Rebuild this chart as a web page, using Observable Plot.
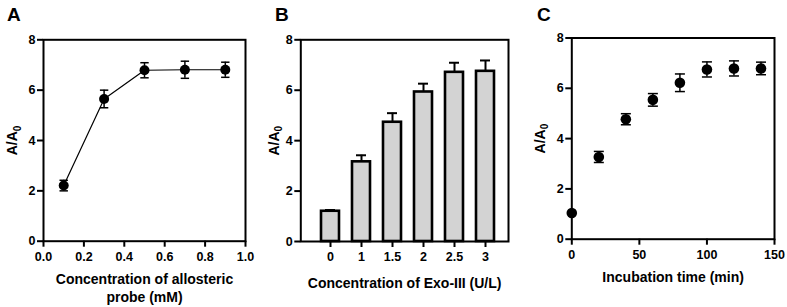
<!DOCTYPE html>
<html>
<head>
<meta charset="utf-8">
<script src="https://cdn.jsdelivr.net/npm/d3@7"></script>
<script src="https://cdn.jsdelivr.net/npm/@observablehq/plot@0.6"></script>
<style>
  html, body { margin: 0; padding: 0; background: #fff; }
  #root { position: relative; width: 787px; height: 307px; overflow: hidden; font-family: "Liberation Sans", Arial, sans-serif; }
  .panel { position: absolute; top: 0; }
  .letter { position: absolute; font: bold 19px "Liberation Sans", Arial, sans-serif; color: #000; line-height: 1; }
</style>
</head>
<body>
<div id="root"></div>
<script>
// Panel A: allosteric probe concentration
const concA = [0.1, 0.3, 0.5, 0.7, 0.9];
const ratioA = [2.21, 5.65, 6.79, 6.81, 6.81];
const errA = [0.21, 0.35, 0.30, 0.34, 0.30];
const ticksA = [0, 0.2, 0.4, 0.6, 0.8, 1.0];

// Panel B: Exo-III concentration
const exoB = ["0", "1", "1.5", "2", "2.5", "3"];
const ratioB = [1.20, 3.16, 4.73, 5.93, 6.71, 6.75];
const errB = [0.05, 0.26, 0.36, 0.33, 0.38, 0.43];

// Panel C: incubation time
const timeC = [0, 20, 40, 60, 80, 100, 120, 140];
const ratioC = [1.04, 3.27, 4.77, 5.54, 6.22, 6.75, 6.79, 6.79];
const errC = [0, 0.22, 0.22, 0.25, 0.35, 0.30, 0.30, 0.25];
const ticksC = [0, 50, 100, 150];

const yTicks = [0, 2, 4, 6, 8];
const yLabel = "A/A0";
const labelA = "Concentration of allosteric\nprobe (mM)";
const labelB = "Concentration of Exo-III (U/L)";
const labelC = "Incubation time (min)";

const dataA = concA.map((x, i) => ({x, y: ratioA[i], e: errA[i]}));
const dataB = exoB.map((x, i) => ({x, y: ratioB[i], e: errB[i]}));
const dataC = timeC.map((x, i) => ({x, y: ratioC[i], e: errC[i]}));

const FONT = "'Liberation Sans', Arial, sans-serif";
const capSymbol = {
  draw(ctx, size) {
    const r = Math.sqrt(size / Math.PI);
    ctx.moveTo(-r, 0);
    ctx.lineTo(r, 0);
  }
};

function baseStyle() {
  return {fontFamily: FONT, fontWeight: "bold", color: "#000", background: "transparent", overflow: "visible"};
}

function yAxisMarks(dxLabel) {
  return [
    Plot.axisY({ticks: yTicks, tickSize: 6, tickPadding: 2, strokeWidth: 2, fontSize: 12.5, fontWeight: "bold", label: null}),
    Plot.text([yLabel], {frameAnchor: "left", rotate: -90, dx: dxLabel, textAnchor: "middle", fontSize: 14, fontWeight: "bold", fill: "#000"})
  ];
}

function subscriptify(svg) {
  d3.select(svg).selectAll("text").each(function() {
    if (this.textContent === yLabel) {
      const t = d3.select(this);
      t.text(null);
      t.append("tspan").text("A/A");
      t.append("tspan").attr("dy", "0.3em").attr("font-size", "0.72em").text("0");
    }
  });
  return svg;
}

// ---- Panel A ----
const plotA = Plot.plot({
  width: 262, height: 307,
  marginLeft: 43, marginRight: 17, marginTop: 39.3, marginBottom: 66.3,
  style: baseStyle(),
  x: {domain: [0, 1]},
  y: {domain: [0, 8]},
  marks: [
    Plot.frame({stroke: "#000", strokeWidth: 2}),
    Plot.axisX({ticks: ticksA, tickFormat: d3.format(".1f"), tickSize: 6, tickPadding: 5, strokeWidth: 2, fontSize: 12.5, fontWeight: "bold", label: null}),
    ...yAxisMarks(-30.5),
    Plot.text([labelA], {frameAnchor: "bottom", dy: 46, textAnchor: "middle", lineAnchor: "middle", lineHeight: 1.29, fontSize: 14, fontWeight: "bold", fill: "#000"}),
    Plot.line(dataA, {x: "x", y: "y", stroke: "#000", strokeWidth: 1.2}),
    Plot.ruleX(dataA, {x: "x", y1: d => d.y - d.e, y2: d => d.y + d.e, stroke: "#000", strokeWidth: 1.5}),
    Plot.dot(dataA, {x: "x", y: d => d.y + d.e, symbol: capSymbol, r: 4.2, stroke: "#000", strokeWidth: 1.5, fill: "none"}),
    Plot.dot(dataA, {x: "x", y: d => d.y - d.e, symbol: capSymbol, r: 4.2, stroke: "#000", strokeWidth: 1.5, fill: "none"}),
    Plot.dot(dataA, {x: "x", y: "y", r: 5, fill: "#000", stroke: "none"})
  ]
});

// ---- Panel B ----
const plotB = Plot.plot({
  width: 262, height: 307,
  marginLeft: 38.3, marginRight: 16, marginTop: 39.3, marginBottom: 66,
  style: baseStyle(),
  x: {type: "band", domain: exoB, paddingInner: 0.42, paddingOuter: 0.46, align: 0.6},
  y: {domain: [0, 8]},
  marks: [
    Plot.ruleX(dataB, {x: "x", y1: "y", y2: d => d.y + d.e, stroke: "#000", strokeWidth: 2}),
    Plot.tickY(dataB, {x: "x", y: d => d.y + d.e, insetLeft: 4, insetRight: 4, stroke: "#000", strokeWidth: 2}),
    Plot.barY(dataB, {x: "x", y: "y", fill: "#d3d3d3", stroke: "#000", strokeWidth: 2.6}),
    Plot.frame({stroke: "#000", strokeWidth: 2}),
    Plot.axisX({tickSize: 6, tickPadding: 5, strokeWidth: 2, fontSize: 12.5, fontWeight: "bold", label: null}),
    ...yAxisMarks(-26),
    Plot.text([labelB], {frameAnchor: "bottom", dy: 42, textAnchor: "middle", lineAnchor: "middle", fontSize: 14, fontWeight: "bold", fill: "#000"})
  ]
});

// ---- Panel C ----
const plotC = Plot.plot({
  width: 263, height: 307,
  marginLeft: 47.3, marginRight: 13, marginTop: 37.5, marginBottom: 68.3,
  style: baseStyle(),
  x: {domain: [0, 150]},
  y: {domain: [0, 8]},
  marks: [
    Plot.frame({stroke: "#000", strokeWidth: 2}),
    Plot.axisX({ticks: ticksC, tickSize: 6, tickPadding: 5, strokeWidth: 2, fontSize: 12.5, fontWeight: "bold", label: null}),
    ...yAxisMarks(-31),
    Plot.text([labelC], {frameAnchor: "bottom", dy: 38, textAnchor: "middle", lineAnchor: "middle", fontSize: 14, fontWeight: "bold", fill: "#000"}),
    Plot.ruleX(dataC.filter(d => d.e > 0), {x: "x", y1: d => d.y - d.e, y2: d => d.y + d.e, stroke: "#000", strokeWidth: 1.5}),
    Plot.dot(dataC.filter(d => d.e > 0), {x: "x", y: d => d.y + d.e, symbol: capSymbol, r: 5, stroke: "#000", strokeWidth: 1.5, fill: "none"}),
    Plot.dot(dataC.filter(d => d.e > 0), {x: "x", y: d => d.y - d.e, symbol: capSymbol, r: 5, stroke: "#000", strokeWidth: 1.5, fill: "none"}),
    Plot.dot(dataC, {x: "x", y: "y", r: 5.3, fill: "#000", stroke: "none"})
  ]
});

const root = document.getElementById("root");
[[plotA, 0], [plotB, 262], [plotC, 524]].forEach(([p, left]) => {
  const wrap = document.createElement("div");
  wrap.className = "panel";
  wrap.style.left = left + "px";
  wrap.appendChild(subscriptify(p));
  root.appendChild(wrap);
});
[["A", 7, 5], ["B", 275, 5], ["C", 537, 5]].forEach(([t, x, y]) => {
  const d = document.createElement("div");
  d.className = "letter";
  d.style.left = x + "px";
  d.style.top = y + "px";
  d.textContent = t;
  root.appendChild(d);
});
</script>
</body>
</html>
